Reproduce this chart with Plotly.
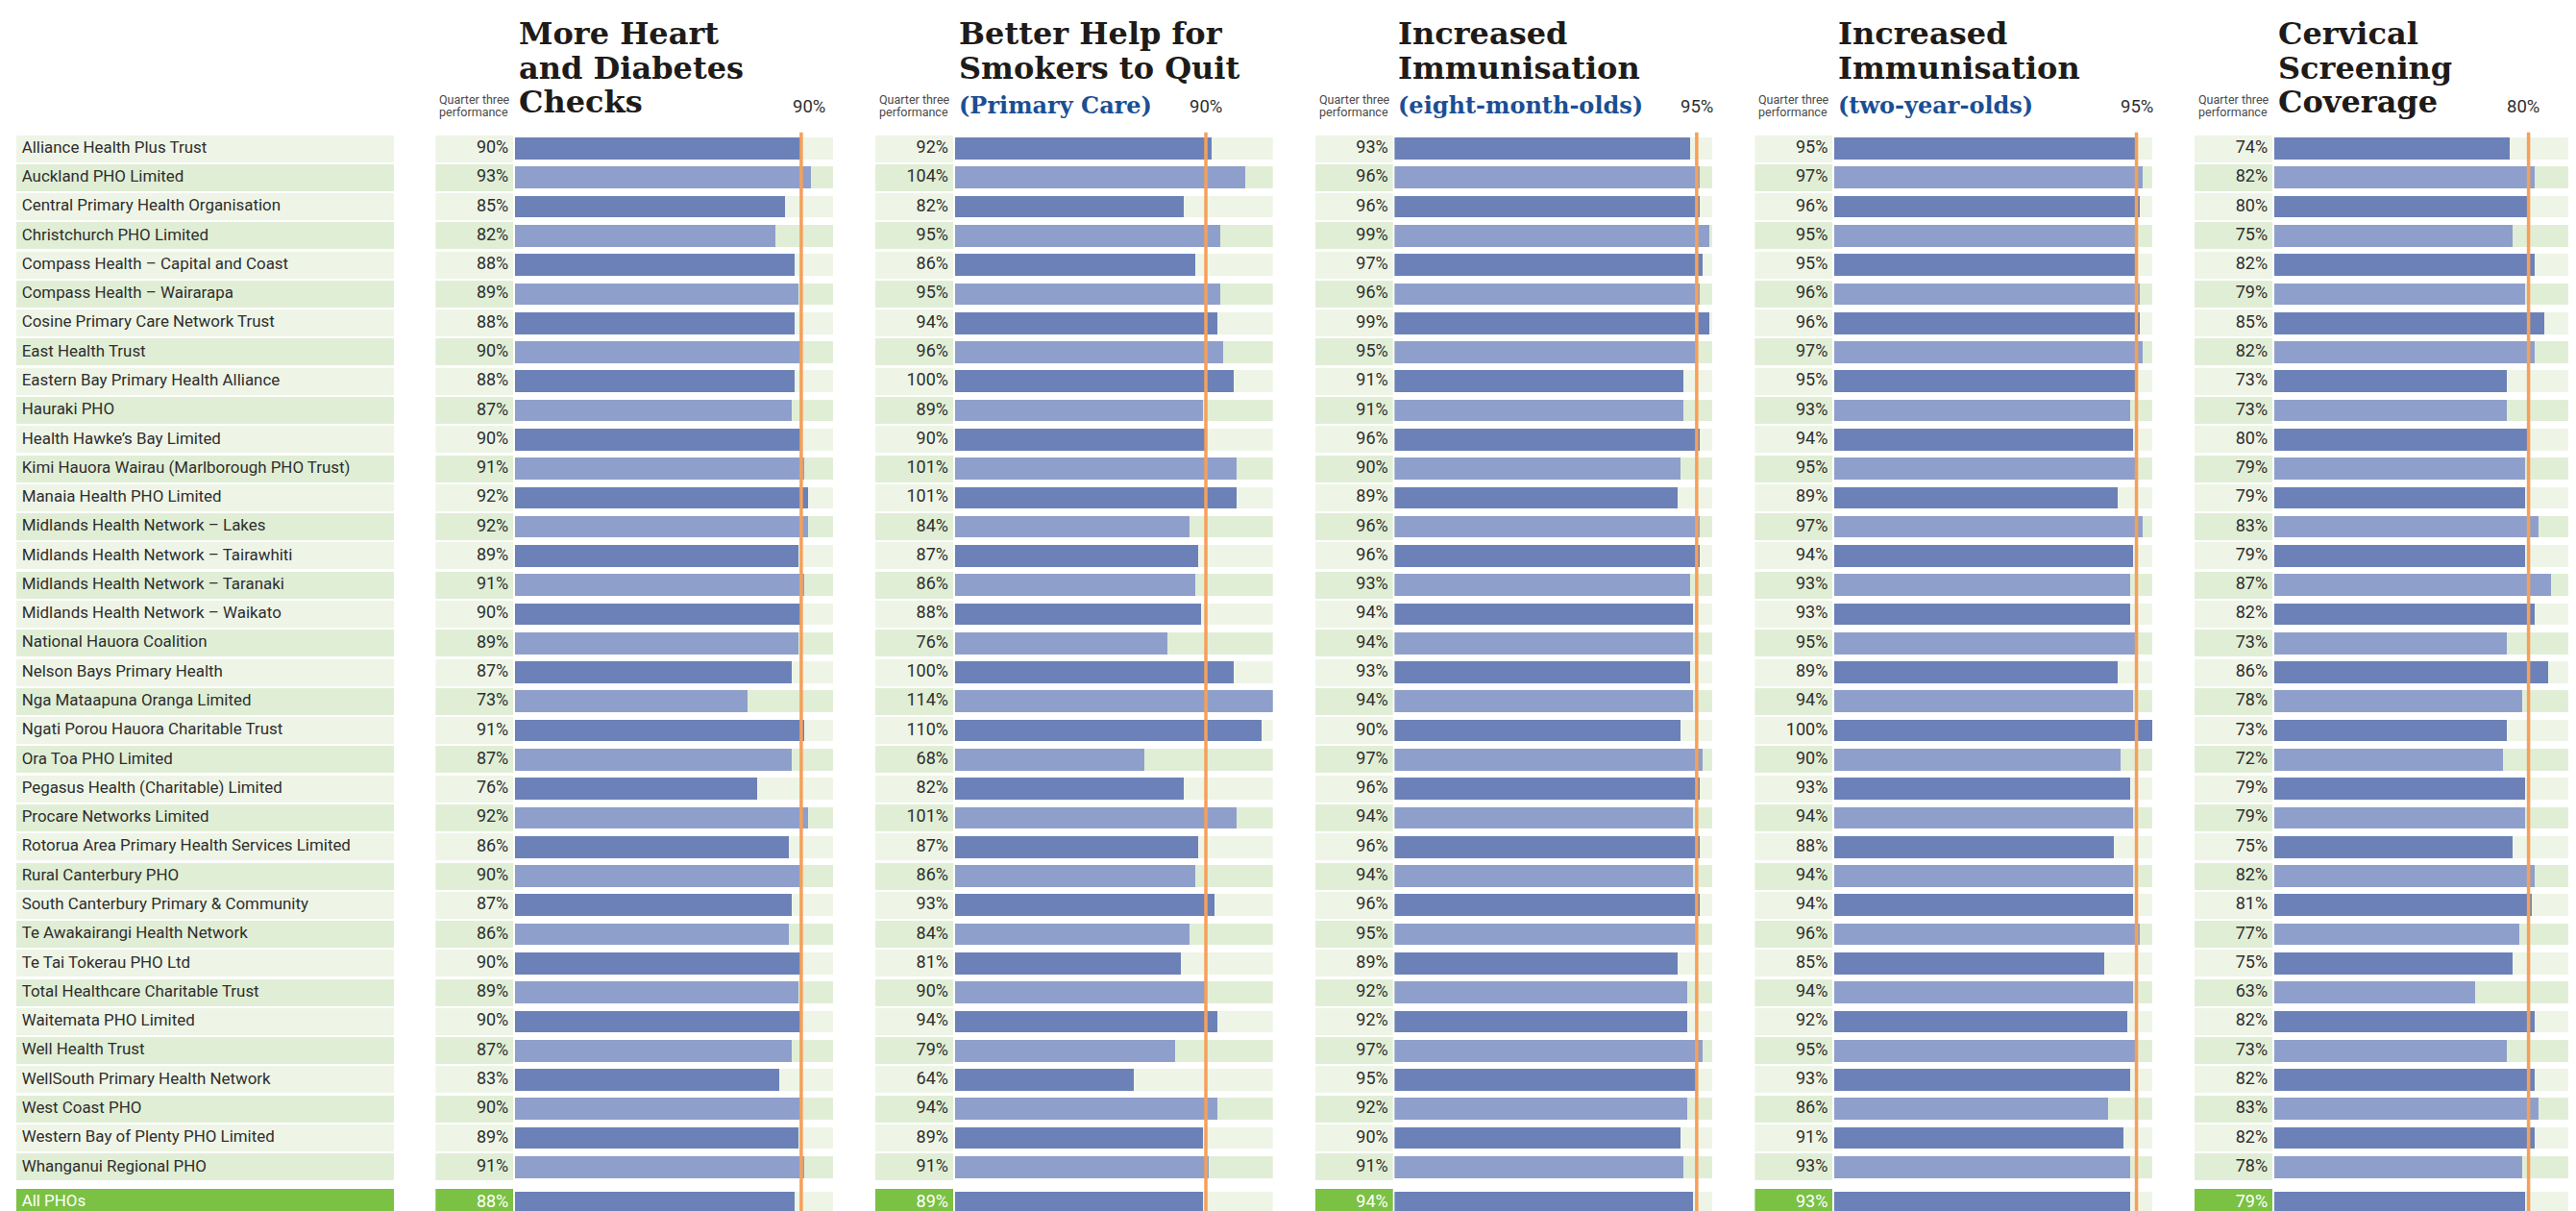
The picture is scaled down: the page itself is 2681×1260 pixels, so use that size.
import plotly.graph_objects as go

# ---------------- data ----------------
names = [
    "Alliance Health Plus Trust", "Auckland PHO Limited", "Central Primary Health Organisation",
    "Christchurch PHO Limited", "Compass Health – Capital and Coast", "Compass Health – Wairarapa",
    "Cosine Primary Care Network Trust", "East Health Trust", "Eastern Bay Primary Health Alliance",
    "Hauraki PHO", "Health Hawke’s Bay Limited", "Kimi Hauora Wairau (Marlborough PHO Trust)",
    "Manaia Health PHO Limited", "Midlands Health Network – Lakes", "Midlands Health Network – Tairawhiti",
    "Midlands Health Network – Taranaki", "Midlands Health Network – Waikato", "National Hauora Coalition",
    "Nelson Bays Primary Health", "Nga Mataapuna Oranga Limited", "Ngati Porou Hauora Charitable Trust",
    "Ora Toa PHO Limited", "Pegasus Health (Charitable) Limited", "Procare Networks Limited",
    "Rotorua Area Primary Health Services Limited", "Rural Canterbury PHO", "South Canterbury Primary & Community",
    "Te Awakairangi Health Network", "Te Tai Tokerau PHO Ltd", "Total Healthcare Charitable Trust",
    "Waitemata PHO Limited", "Well Health Trust", "WellSouth Primary Health Network", "West Coast PHO",
    "Western Bay of Plenty PHO Limited", "Whanganui Regional PHO",
]
heart_checks = [90, 93, 85, 82, 88, 89, 88, 90, 88, 87, 90, 91, 92, 92, 89, 91, 90, 89,
                87, 73, 91, 87, 76, 92, 86, 90, 87, 86, 90, 89, 90, 87, 83, 90, 89, 91]
smokers_help = [92, 104, 82, 95, 86, 95, 94, 96, 100, 89, 90, 101, 101, 84, 87, 86, 88, 76,
                100, 114, 110, 68, 82, 101, 87, 86, 93, 84, 81, 90, 94, 79, 64, 94, 89, 91]
immun_8m = [93, 96, 96, 99, 97, 96, 99, 95, 91, 91, 96, 90, 89, 96, 96, 93, 94, 94,
            93, 94, 90, 97, 96, 94, 96, 94, 96, 95, 89, 92, 92, 97, 95, 92, 90, 91]
immun_2y = [95, 97, 96, 95, 95, 96, 96, 97, 95, 93, 94, 95, 89, 97, 94, 93, 93, 95,
            89, 94, 100, 90, 93, 94, 88, 94, 94, 96, 85, 94, 92, 95, 93, 86, 91, 93]
cervical = [74, 82, 80, 75, 82, 79, 85, 82, 73, 73, 80, 79, 79, 83, 79, 87, 82, 73,
            86, 78, 73, 72, 79, 79, 75, 82, 81, 77, 75, 63, 82, 73, 82, 83, 82, 78]
total_label = "All PHOs"
total_values = [88, 89, 94, 93, 79]
targets = [90, 90, 95, 95, 80]
axis_max = [100, 114, 100, 100, 100]
title_lines = [
    ["More Heart", "and Diabetes", "Checks"],
    ["Better Help for", "Smokers to Quit"],
    ["Increased", "Immunisation"],
    ["Increased", "Immunisation"],
    ["Cervical", "Screening", "Coverage"],
]
subtitles = [None, "(Primary Care)", "(eight-month-olds)", "(two-year-olds)", None]
header_note = ["Quarter three", "performance"]

series = [heart_checks, smokers_help, immun_8m, immun_2y, cervical]

# ---------------- style / geometry ----------------
W, H = 2681, 1260          # window size
OFF = 8                    # page body margin in the browser
FW, FH = W - OFF, H - OFF  # figure size
BG_A, BG_B = "#eef5e6", "#e1eed6"
BAR_A, BAR_B = "#6c81b7", "#8f9fcb"
GREEN = "#7bc143"
ORANGE = "#f5a05a"
TXT = "#2e2e2e"
TITLE_C = "#1e1b19"
BLUE = "#1b4f94"
SANS = "Roboto, 'Liberation Sans', sans-serif"
SERIF = "'DejaVu Serif', serif"

NAME_X0, NAME_X1 = 17, 410
PANEL_X0, PANEL_STEP = 453.3, 457.7
CELL_W, CELL_GAP, BAR_AREA = 81, 1.7, 331
ROW0_PX, ROW_PX = 154.5, 30.28
TOTAL_EXTRA = 0.22
TARGET_LABEL_SHIFT = [8, 0, 0, 0, -6]

n = len(names)
ypos = list(range(n)) + [n + TOTAL_EXTRA]
labels = names + [total_label]
is_total = [False] * n + [True]
bg_cols = [GREEN if t else (BG_A if i % 2 == 0 else BG_B) for i, t in enumerate(is_total)]
strip_cols = [BG_A if (t or i % 2 == 0) else BG_B for i, t in enumerate(is_total)]
bar_cols = [BAR_A if (t or i % 2 == 0) else BAR_B for i, t in enumerate(is_total)]
txt_cols = ["#ffffff" if t else TXT for t in is_total]

CELL_H = 28 / ROW_PX
BAR_H = 22.7 / ROW_PX
y_top = (OFF - ROW0_PX) / ROW_PX
y_bot = (H - ROW0_PX) / ROW_PX


def px_x(px):
    return (px - OFF) / FW


def py(px):
    return 1 - (px - OFF) / FH


fig = go.Figure()
layout_axes = {}

# name column
layout_axes["xaxis"] = dict(domain=[px_x(NAME_X0), px_x(NAME_X1)], range=[0, 1], visible=False,
                            fixedrange=True, anchor="y")
fig.add_trace(go.Bar(orientation="h", x=[1] * len(ypos), y=ypos, base=0, width=CELL_H,
                     marker=dict(color=bg_cols, line=dict(width=0)), xaxis="x", yaxis="y",
                     hoverinfo="skip"))
fig.add_trace(go.Scatter(x=[5.7 / (NAME_X1 - NAME_X0)] * len(ypos), y=ypos, mode="text",
                         text=labels, textposition="middle right",
                         textfont=dict(family=SANS, size=16.9, color=txt_cols),
                         xaxis="x", yaxis="y", hoverinfo="skip"))

annotations = []
shapes = []
for k in range(5):
    vals = series[k] + [total_values[k]]
    cx0 = PANEL_X0 + k * PANEL_STEP
    cx1 = cx0 + CELL_W
    bx0 = cx1 + CELL_GAP
    bx1_full = bx0 + BAR_AREA
    bx1 = min(bx1_full, W)
    vis_max = axis_max[k] * (bx1 - bx0) / BAR_AREA
    va = "x%d" % (2 + 2 * k)
    ba = "x%d" % (3 + 2 * k)
    layout_axes["xaxis%d" % (2 + 2 * k)] = dict(domain=[px_x(cx0), px_x(cx1)], range=[0, 1],
                                                visible=False, fixedrange=True, anchor="y")
    layout_axes["xaxis%d" % (3 + 2 * k)] = dict(domain=[px_x(bx0), min(1, px_x(bx1))],
                                                range=[0, vis_max],
                                                visible=False, fixedrange=True, anchor="y")
    # value cell
    fig.add_trace(go.Bar(orientation="h", x=[1] * len(ypos), y=ypos, base=0, width=CELL_H,
                         marker=dict(color=bg_cols, line=dict(width=0)), xaxis=va, yaxis="y",
                         hoverinfo="skip"))
    fig.add_trace(go.Scatter(x=[1 - 5 / CELL_W] * len(ypos), y=ypos, mode="text",
                             text=["%d%%" % v for v in vals], textposition="middle left",
                             textfont=dict(family=SANS, size=18, color=txt_cols),
                             xaxis=va, yaxis="y", hoverinfo="skip"))
    # bar background strip
    fig.add_trace(go.Bar(orientation="h", x=[axis_max[k]] * len(ypos), y=ypos, base=0, width=BAR_H,
                         marker=dict(color=strip_cols, line=dict(width=0)), xaxis=ba, yaxis="y",
                         hoverinfo="skip"))
    # value bars
    fig.add_trace(go.Bar(orientation="h", x=vals, y=ypos, base=0, width=BAR_H,
                         marker=dict(color=bar_cols, line=dict(width=0)), xaxis=ba, yaxis="y",
                         hoverinfo="skip"))
    # target line
    shapes.append(dict(type="line", xref=ba, yref="y", x0=targets[k], x1=targets[k],
                       y0=-0.55, y1=y_bot, line=dict(color=ORANGE, width=3.5), layer="above"))
    annotations.append(dict(xref=ba, yref="paper", x=targets[k], xshift=TARGET_LABEL_SHIFT[k],
                            y=py(111), text="%d%%" % targets[k],
                            showarrow=False, xanchor="center", yanchor="middle",
                            font=dict(family=SANS, size=18.5, color=TXT)))
    # header note (two lines)
    for j, (line, base_px) in enumerate(zip(header_note, [107.3, 121.0])):
        annotations.append(dict(xref=va, yref="paper", x=0, xshift=2, y=py(base_px - 0.34 * 12.5),
                                text=line, showarrow=False, xanchor="left", yanchor="middle",
                                font=dict(family=SANS, size=12.5, color="#4a4a4a")))
    # titles
    baselines = [45.7, 81.7, 117.3]
    for j, line in enumerate(title_lines[k]):
        annotations.append(dict(xref=ba, yref="paper", x=0, xshift=2, y=py(baselines[j] - 0.346 * 32),
                                text=line, showarrow=False, xanchor="left", yanchor="middle",
                                font=dict(family=SERIF, size=32, color=TITLE_C, weight="bold")))
    if subtitles[k]:
        annotations.append(dict(xref=ba, yref="paper", x=0, xshift=2, y=py(118 - 0.346 * 24),
                                text=subtitles[k], showarrow=False, xanchor="left", yanchor="middle",
                                font=dict(family=SERIF, size=24, color=BLUE, weight="bold")))

fig.update_layout(
    width=FW, height=FH,
    margin=dict(l=0, r=0, t=0, b=0, pad=0),
    paper_bgcolor="white", plot_bgcolor="rgba(0,0,0,0)",
    barmode="overlay", bargap=0, showlegend=False, hovermode=False,
    yaxis=dict(domain=[0, 1], range=[y_bot, y_top], visible=False, fixedrange=True, anchor="x"),
    annotations=annotations, shapes=shapes,
    **layout_axes,
)
fig.write_html("out.html", config={"displayModeBar": False})
